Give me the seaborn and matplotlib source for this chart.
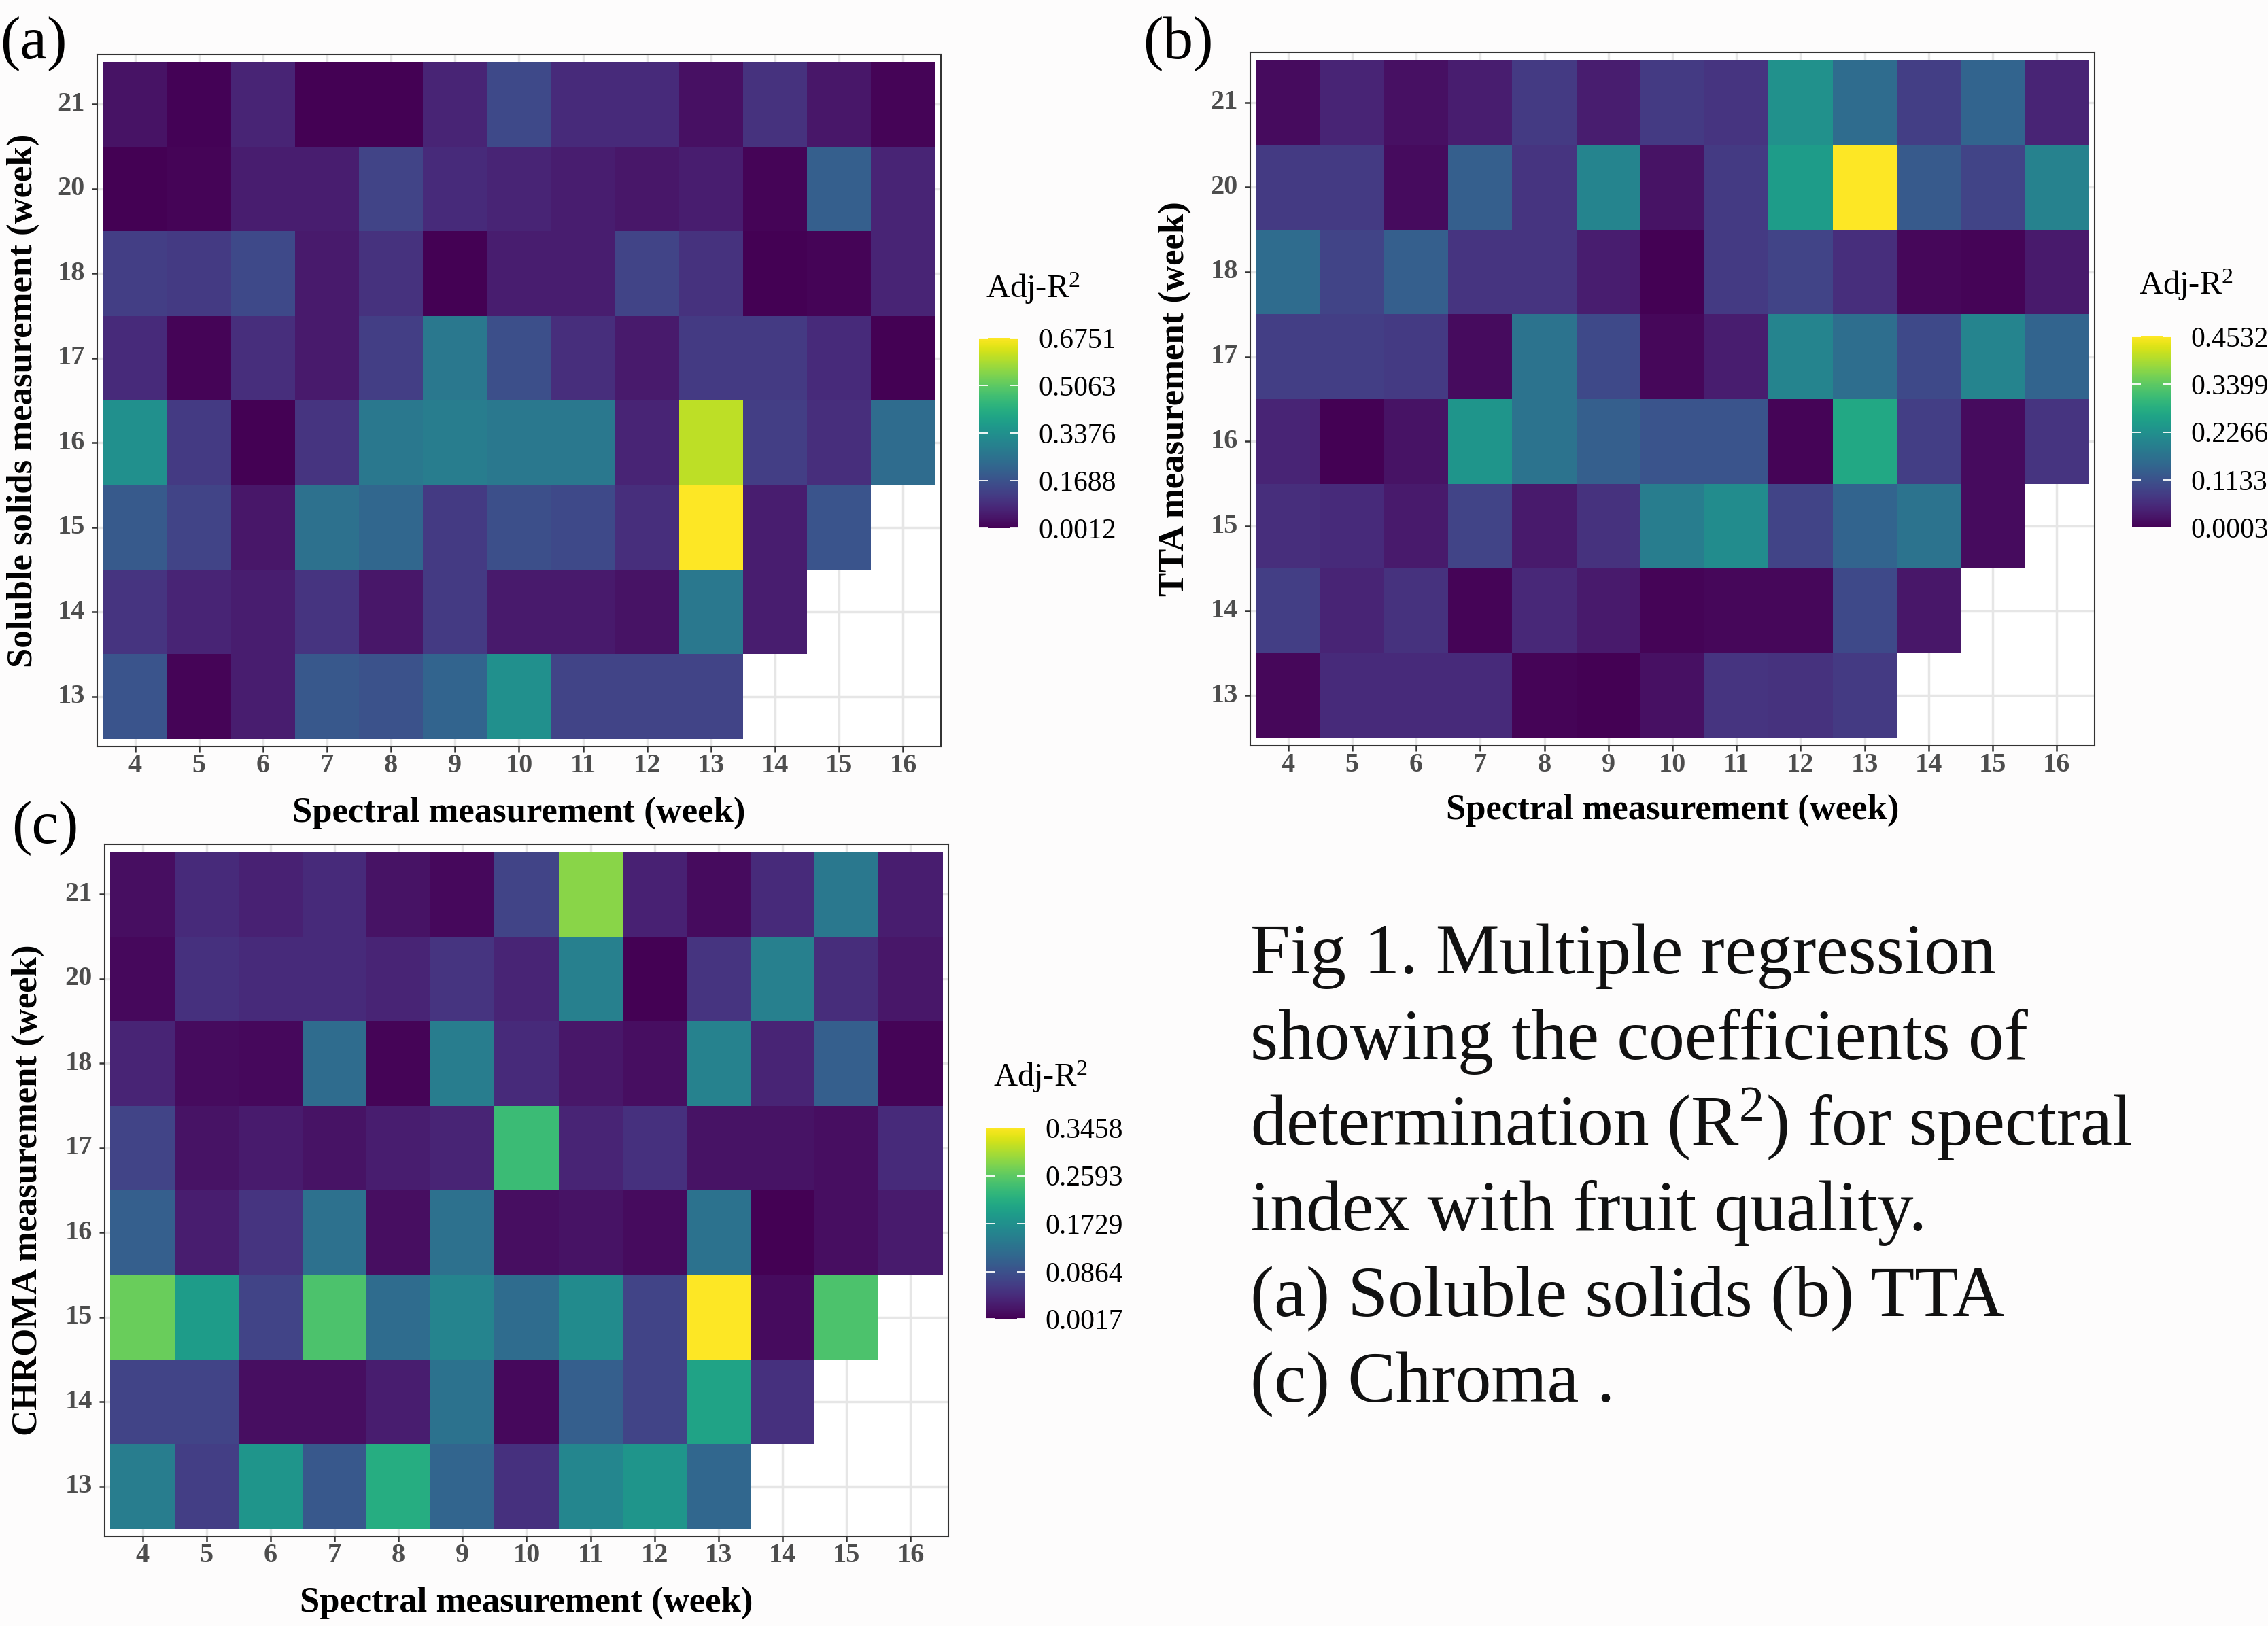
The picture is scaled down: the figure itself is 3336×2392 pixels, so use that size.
import numpy as np
import pandas as pd
import matplotlib
matplotlib.use("Agg")
import matplotlib.pyplot as plt
import seaborn as sns

nan = np.nan

# x: week of spectral measurement, y: week of quality measurement (top row first)
spectral_weeks = [4, 5, 6, 7, 8, 9, 10, 11, 12, 13, 14, 15, 16]
quality_weeks = [21, 20, 18, 17, 16, 15, 14, 13]

# adjusted R2, one list per quality week
soluble_solids = [
    [0.035, 0.004, 0.069, 0.003, 0.003, 0.069, 0.150, 0.082, 0.082, 0.028, 0.096, 0.042, 0.008],
    [0.0012, 0.008, 0.055, 0.055, 0.136, 0.082, 0.069, 0.055, 0.042, 0.055, 0.008, 0.203, 0.069],
    [0.123, 0.116, 0.150, 0.048, 0.096, 0.002, 0.055, 0.055, 0.136, 0.096, 0.003, 0.008, 0.069],
    [0.082, 0.008, 0.089, 0.048, 0.123, 0.271, 0.163, 0.089, 0.048, 0.116, 0.116, 0.082, 0.003],
    [0.338, 0.116, 0.002, 0.102, 0.271, 0.284, 0.271, 0.271, 0.069, 0.608, 0.123, 0.089, 0.237],
    [0.190, 0.136, 0.042, 0.250, 0.224, 0.116, 0.163, 0.150, 0.089, 0.6751, 0.055, 0.176, nan],
    [0.102, 0.069, 0.055, 0.102, 0.042, 0.116, 0.048, 0.048, 0.035, 0.271, 0.055, nan, nan],
    [0.176, 0.008, 0.055, 0.183, 0.170, 0.217, 0.338, 0.136, 0.136, 0.136, nan, nan, nan],
]

tta = [
    [0.014, 0.046, 0.018, 0.036, 0.077, 0.036, 0.077, 0.068, 0.227, 0.159, 0.082, 0.145, 0.046],
    [0.077, 0.077, 0.014, 0.136, 0.068, 0.204, 0.023, 0.077, 0.249, 0.4532, 0.127, 0.091, 0.200],
    [0.159, 0.091, 0.136, 0.068, 0.068, 0.036, 0.0003, 0.077, 0.091, 0.059, 0.009, 0.005, 0.032],
    [0.082, 0.082, 0.077, 0.014, 0.172, 0.100, 0.009, 0.036, 0.204, 0.163, 0.100, 0.204, 0.145],
    [0.046, 0.002, 0.023, 0.236, 0.172, 0.136, 0.118, 0.118, 0.005, 0.272, 0.082, 0.014, 0.068],
    [0.059, 0.055, 0.032, 0.091, 0.032, 0.064, 0.191, 0.218, 0.091, 0.145, 0.172, 0.014, nan],
    [0.082, 0.046, 0.064, 0.005, 0.050, 0.032, 0.005, 0.009, 0.009, 0.100, 0.027, nan, nan],
    [0.009, 0.055, 0.055, 0.055, 0.005, 0.002, 0.018, 0.068, 0.064, 0.077, nan, nan, nan],
]

chroma = [
    [0.015, 0.043, 0.033, 0.043, 0.019, 0.009, 0.071, 0.284, 0.033, 0.012, 0.043, 0.139, 0.029],
    [0.009, 0.050, 0.043, 0.043, 0.036, 0.053, 0.036, 0.150, 0.0017, 0.053, 0.150, 0.046, 0.022],
    [0.036, 0.012, 0.009, 0.122, 0.005, 0.146, 0.043, 0.022, 0.015, 0.153, 0.036, 0.105, 0.005],
    [0.071, 0.019, 0.026, 0.019, 0.029, 0.036, 0.236, 0.036, 0.050, 0.019, 0.019, 0.015, 0.043],
    [0.105, 0.029, 0.053, 0.129, 0.015, 0.129, 0.015, 0.019, 0.012, 0.132, 0.003, 0.015, 0.026],
    [0.267, 0.191, 0.071, 0.249, 0.122, 0.157, 0.122, 0.167, 0.071, 0.3458, 0.012, 0.249, nan],
    [0.071, 0.071, 0.015, 0.015, 0.029, 0.132, 0.009, 0.105, 0.071, 0.201, 0.050, nan, nan],
    [0.146, 0.064, 0.181, 0.095, 0.215, 0.112, 0.050, 0.160, 0.181, 0.115, nan, nan, nan],
]

ticks_ss = [0.0012, 0.1688, 0.3376, 0.5063, 0.6751]
ticks_tta = [0.0003, 0.1133, 0.2266, 0.3399, 0.4532]
ticks_chroma = [0.0017, 0.0864, 0.1729, 0.2593, 0.3458]

caption_lines = [
    "Fig 1. Multiple regression",
    "showing the coefficients of",
    "determination (R$^{2}$) for spectral",
    "index with fruit quality.",
    "(a) Soluble solids (b) TTA",
    "(c) Chroma .",
]

plt.rcParams['font.family'] = ['Liberation Serif', 'DejaVu Serif']
plt.rcParams['mathtext.fontset'] = 'custom'
plt.rcParams['mathtext.rm'] = 'Liberation Serif'
plt.rcParams['mathtext.it'] = 'Liberation Serif:italic'
plt.rcParams['mathtext.bf'] = 'Liberation Serif:bold'

W, H = 3337, 2392
fig = plt.figure(figsize=(W / 100, H / 100), dpi=100, facecolor='#fdfcfc')


def box(l, t, r, b):
    return [l / W, 1 - b / H, (r - l) / W, (b - t) / H]


def draw_panel(values, ticks, ylabel, letter, frame, cbox, title_xy, ylab_x, xlab_y, letter_xy):
    ax = fig.add_axes(box(*frame))
    cax = fig.add_axes(box(*cbox))
    df = pd.DataFrame(values, index=quality_weeks, columns=spectral_weeks)
    sns.heatmap(df, ax=ax, cmap='viridis', vmin=np.nanmin(df.values), vmax=np.nanmax(df.values),
                cbar_ax=cax, cbar_kws={'ticks': ticks}, linewidths=0)
    ax.set_facecolor('white')
    ax.set_xlim(-0.09, len(spectral_weeks) + 0.09)
    ax.set_ylim(len(quality_weeks) + 0.09, -0.09)
    for s in ax.spines.values():
        s.set_visible(True)
        s.set_color('#333333')
        s.set_linewidth(1.5)
    ax.grid(True, color='#e6e6e6', lw=2.5)
    ax.set_axisbelow(True)
    ax.set_xlabel('')
    ax.set_ylabel('')
    ax.tick_params(axis='both', length=6, width=1.8, color='#333333', labelsize=29, labelcolor='#4d4d4d')
    ax.tick_params(axis='x', pad=1)
    ax.tick_params(axis='y', pad=7)
    plt.setp(ax.get_yticklabels(), rotation=0, fontweight='bold')
    plt.setp(ax.get_xticklabels(), rotation=0, fontweight='bold')

    cbar = ax.collections[0].colorbar
    cbar.outline.set_visible(False)
    cbar.set_ticks(ticks)
    cbar.set_ticklabels([f'{t:.4f}' for t in ticks])
    cax.minorticks_off()
    cax.tick_params(axis='y', direction='in', left=True, right=True, length=9, width=1.3,
                    color='white', labelsize=30, labelcolor='black', pad=21)

    fig.text(title_xy[0] / W, 1 - title_xy[1] / H, 'Adj-R$^{2}$', fontsize=35, ha='left', va='baseline')
    fx = (frame[0] + frame[2]) / 2
    fy = (frame[1] + frame[3]) / 2
    fig.text(fx / W, 1 - xlab_y / H, 'Spectral measurement (week)', fontsize=38, fontweight='bold',
             ha='center', va='center')
    fig.text(ylab_x / W, 1 - fy / H, ylabel, fontsize=38, fontweight='bold', rotation=90,
             ha='center', va='center')
    fig.text(letter_xy[0] / W, 1 - letter_xy[1] / H, letter, fontsize=64, ha='left', va='top')


draw_panel(soluble_solids, ticks_ss, 'Soluble solids measurement (week)', '(a)',
           (143, 80, 1384, 1098), (1440, 497, 1498, 777), (1450, 438), 34, 1196, (0, 24))
draw_panel(tta, ticks_tta, 'TTA measurement (week)', '(b)',
           (1839, 77, 3081, 1097), (3136, 495, 3193, 776), (3146, 433), 1728, 1192, (1681, 24))
draw_panel(chroma, ticks_chroma, 'CHROMA measurement (week)', '(c)',
           (154, 1242, 1395, 2260), (1451, 1659, 1508, 1940), (1461, 1598), 41, 2358, (17, 1178))

for i, line in enumerate(caption_lines):
    fig.text(1839 / W, 1 - (1432 + i * 126) / H, line, fontsize=76, ha='left', va='baseline',
             color='#111111')

fig.savefig('out.png', dpi=100, facecolor=fig.get_facecolor())
